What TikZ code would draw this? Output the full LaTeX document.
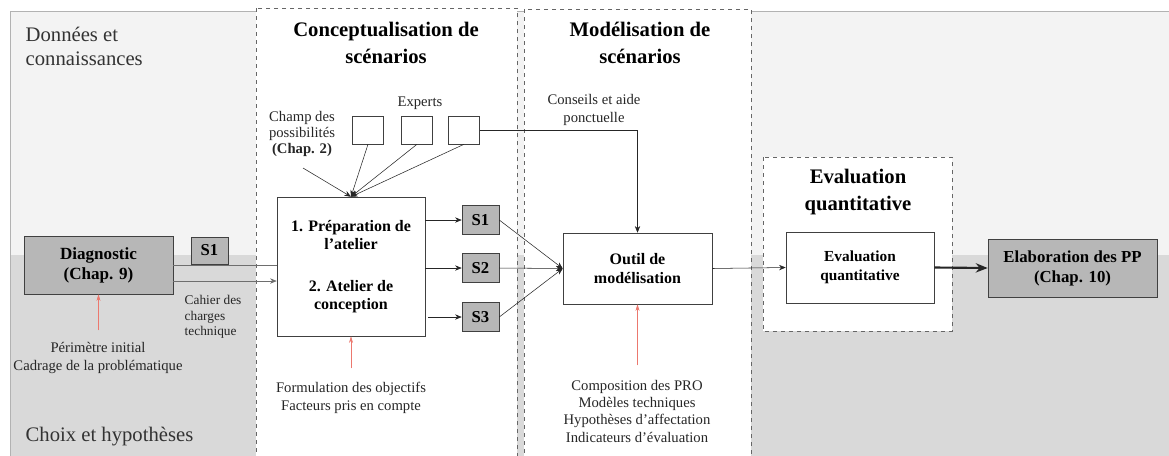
\documentclass[tikz,border=0pt]{standalone}
\usepackage{fontspec}
\setmainfont{Liberation Serif}
\usetikzlibrary{arrows.meta,calc}
\definecolor{zone_top}{RGB}{243,243,243}
\definecolor{zone_bottom}{RGB}{217,217,217}
\definecolor{box_gray}{RGB}{183,183,183}
\definecolor{input_red}{RGB}{236,120,110}
\definecolor{link_gray}{RGB}{110,110,110}
\tikzset{
  stepbox/.style = {draw=black!75, fill=white, align=center, font=\bfseries\fontsize{12}{14}\selectfont},
  graybox/.style = {stepbox, fill=box_gray},
  expertbox/.style = {draw=black!75, fill=white, minimum width=23.25pt, minimum height=21pt, inner sep=0pt},
  scenbox/.style = {graybox, minimum width=27.75pt, minimum height=21.75pt, inner sep=0pt, font=\bfseries\fontsize{12.5}{14}\selectfont},
  phase/.style = {draw=black!60, dashed, fill=white},
  title/.style = {align=center, font=\bfseries\fontsize{15.5}{20}\selectfont},
  note/.style = {align=center, font=\fontsize{11}{13}\selectfont, text=black!85},
  link/.style = {-{Stealth[length=5pt,width=4pt]}, black!85},
  redarrow/.style = {-{Stealth[length=5pt,width=3pt]}, input_red}
}
\begin{document}
\begin{tikzpicture}[x=0.75pt, y=-0.75pt]
  \useasboundingbox (0,0) rectangle (1169,455);
  % background zones
  \fill[zone_top] (10,11) rectangle (1175,255);
  \fill[zone_bottom] (10,255) rectangle (1175,460);
  \draw[black!30] (10,460) -- (10,11) -- (1175,11);
  \node[anchor=north west, align=left, font=\fontsize{15.5}{18}\selectfont, text=black!80] (donnees) at (21,22) {Donn\'ees et\\connaissances};
  \node[anchor=west, font=\fontsize{15.5}{18}\selectfont, text=black!80] (choix) at (21,437) {Choix et hypoth\`eses};

  % phases
  \draw[phase] (256,8) rectangle (517,462);
  \draw[phase] (524,9) rectangle (751,462);
  \draw[phase] (763,157) rectangle (952,331);
  \node[title] (conc_title) at (386,43) {Conceptualisation de\\sc\'enarios};
  \node[title] (model_title) at (640,43) {Mod\'elisation de\\sc\'enarios};
  \node[title] (eval_title) at (858,192) {Evaluation\\quantitative};

  % boxes
  \node[graybox, minimum width=111.75pt, minimum height=43.5pt, font=\bfseries\fontsize{12.8}{15}\selectfont] (diag) at (98.5,265) {Diagnostic\\(Chap. 9)};
  \node[scenbox, minimum height=20.25pt] (s0) at (209.5,250.5) {S1};
  \node[stepbox, minimum width=111pt, minimum height=104.25pt] (atelier) at (351,266.5) {1. Pr\'eparation de\\l'atelier\\[17pt]2. Atelier de\\conception};
  \node[expertbox] (e1) at (368,130) {};
  \node[expertbox] (e2) at (417,130) {};
  \node[expertbox] (e3) at (464,130) {};
  \node[scenbox] (s1) at (480.5,220) {S1};
  \node[scenbox] (s2) at (480.5,268) {S2};
  \node[scenbox] (s3) at (480.5,317) {S3};
  \node[stepbox, minimum width=111.75pt, minimum height=53.25pt] (outil) at (637.5,268.5) {Outil de\\mod\'elisation};
  \node[stepbox, minimum width=111pt, minimum height=53.25pt, font=\bfseries\fontsize{11.5}{14}\selectfont] (evalbox) at (860,267.5) {Evaluation\\quantitative};
  \node[graybox, minimum width=126.75pt, minimum height=43.5pt, font=\bfseries\fontsize{12.6}{15}\selectfont] (elab) at (1072.5,268) {Elaboration des PP\\(Chap. 10)};

  % labels
  \node[note] (experts) at (420,103) {Experts};
  \node[note, font=\fontsize{11}{12}\selectfont] (champ) at (302,134) {Champ des\\possibilit\'es\\\textbf{(Chap. 2)}};
  \node[note] (conseils) at (594,110) {Conseils et aide\\ponctuelle};
  \node[note, align=left, anchor=north west, font=\fontsize{10}{11.6}\selectfont] (cahier) at (180,291) {Cahier des\\charges\\technique};
  \node[note] (perimetre) at (98,358) {P\'erim\`etre initial\\Cadrage de la probl\'ematique};
  \node[note] (formulation) at (351,398) {Formulation des objectifs\\Facteurs pris en compte};
  \node[note] (composition) at (637,411) {Composition des PRO\\Mod\`eles techniques\\Hypoth\`eses d'affectation\\Indicateurs d'\'evaluation};

  % connectors
  \coordinate (merge) at (atelier.north);
  \coordinate (champ_end) at (303,168);
  \draw[link] (champ_end) -- (merge);
  \foreach \e in {e1,e2,e3}
    \draw[link] (\e.south) -- (merge);
  \draw[link] (e3.east) -| (outil.north);
  \draw[link_gray] (diag.east) -- (atelier.west |- diag.east);
  \coordinate (diag_out) at ($(diag.east)+(0,16)$);
  \draw[link, link_gray] (diag_out) -- (atelier.west |- diag_out);
  \draw[link] (atelier.east |- s1) -- (s1);
  \draw[link] (atelier.east |- s2) -- (s2);
  \draw[link] ($(atelier.east |- s3)+(3,0)$) -- (s3);
  \foreach \s in {s1,s2,s3}
    \draw[link] (\s.east) -- (outil.west);
  \draw[link] (outil.east) -- (evalbox.west);
  \draw[-{Stealth[length=9pt,width=7pt]}, line width=1.6pt, black!85] (evalbox.east) -- (elab.west);
  \draw[redarrow] ($(diag.south)+(0,36)$) -- (diag.south);
  \draw[redarrow] ($(atelier.south)+(0,32)$) -- (atelier.south);
  \draw[redarrow] ($(outil.south)+(0,61)$) -- (outil.south);
\end{tikzpicture}
\end{document}
